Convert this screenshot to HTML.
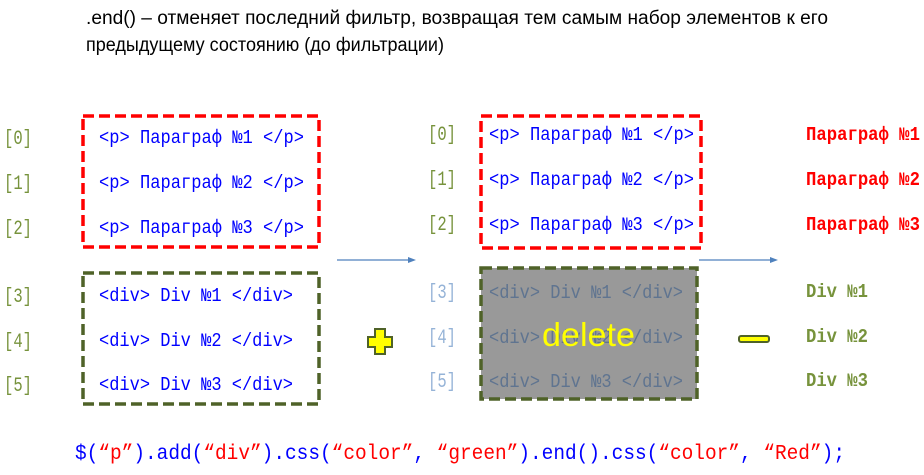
<!DOCTYPE html>
<html><head><meta charset="utf-8"><style>
html,body{margin:0;padding:0;background:#fff;}
svg{display:block}
.m{font-family:"Liberation Mono",monospace;}
.s{font-family:"Liberation Sans",sans-serif;}
</style></head><body>
<svg width="924" height="475" viewBox="0 0 924 475" xmlns="http://www.w3.org/2000/svg">
<text class="s" x="86" y="24" font-size="19" fill="#000" textLength="742" lengthAdjust="spacingAndGlyphs">.end() – отменяет последний фильтр, возвращая тем самым набор элементов к его</text>
<text class="s" x="86" y="51" font-size="19" fill="#000" textLength="358" lengthAdjust="spacingAndGlyphs">предыдущему состоянию (до фильтрации)</text>

<rect x="83" y="116" width="236" height="131" fill="none" stroke="#ff0000" stroke-width="3.5" stroke-dasharray="11,5"/>
<rect x="83" y="273" width="236" height="131" fill="none" stroke="#4f6228" stroke-width="3.5" stroke-dasharray="11,5"/>
<g class="m" font-size="20" fill="#77933c">
<text x="4" y="144" textLength="28" lengthAdjust="spacingAndGlyphs">[0]</text>
<text x="4" y="189" textLength="28" lengthAdjust="spacingAndGlyphs">[1]</text>
<text x="4" y="234" textLength="28" lengthAdjust="spacingAndGlyphs">[2]</text>
<text x="4" y="302" textLength="28" lengthAdjust="spacingAndGlyphs">[3]</text>
<text x="4" y="347" textLength="28" lengthAdjust="spacingAndGlyphs">[4]</text>
<text x="4" y="391" textLength="28" lengthAdjust="spacingAndGlyphs">[5]</text>
</g>
<g class="m" font-size="19" fill="#0000ff">
<text x="99" y="143" textLength="205" lengthAdjust="spacingAndGlyphs">&lt;p&gt; Параграф №1 &lt;/p&gt;</text>
<text x="99" y="188" textLength="205" lengthAdjust="spacingAndGlyphs">&lt;p&gt; Параграф №2 &lt;/p&gt;</text>
<text x="99" y="233" textLength="205" lengthAdjust="spacingAndGlyphs">&lt;p&gt; Параграф №3 &lt;/p&gt;</text>
<text x="99" y="301" textLength="194" lengthAdjust="spacingAndGlyphs">&lt;div&gt; Div №1 &lt;/div&gt;</text>
<text x="99" y="346" textLength="194" lengthAdjust="spacingAndGlyphs">&lt;div&gt; Div №2 &lt;/div&gt;</text>
<text x="99" y="390" textLength="194" lengthAdjust="spacingAndGlyphs">&lt;div&gt; Div №3 &lt;/div&gt;</text>
</g>

<line x1="337" y1="260" x2="410" y2="260" stroke="#4f81bd" stroke-width="1.3"/>
<polygon points="416,260 408,257 408,263" fill="#4f81bd"/>
<line x1="699" y1="260" x2="772" y2="260" stroke="#4f81bd" stroke-width="1.3"/>
<polygon points="778,260 770,257 770,263" fill="#4f81bd"/>

<path d="M375,329 h10 v8 h7 v10 h-7 v7 h-10 v-7 h-7 v-10 h7 z" fill="#ffff00" stroke="#4f6228" stroke-width="2"/>
<rect x="739" y="336" width="30" height="6" rx="2" fill="#ffff00" stroke="#4f6228" stroke-width="2"/>

<rect x="481" y="116" width="220" height="132" fill="none" stroke="#ff0000" stroke-width="3.5" stroke-dasharray="11,5"/>
<rect x="481" y="268" width="216" height="131" fill="#999999" stroke="#4f6228" stroke-width="3.5" stroke-dasharray="11,5"/>
<g class="m" font-size="20">
<text x="428" y="140" fill="#77933c" textLength="28" lengthAdjust="spacingAndGlyphs">[0]</text>
<text x="428" y="185" fill="#77933c" textLength="28" lengthAdjust="spacingAndGlyphs">[1]</text>
<text x="428" y="230" fill="#77933c" textLength="28" lengthAdjust="spacingAndGlyphs">[2]</text>
<text x="428" y="298" fill="#95b3d7" textLength="28" lengthAdjust="spacingAndGlyphs">[3]</text>
<text x="428" y="343" fill="#95b3d7" textLength="28" lengthAdjust="spacingAndGlyphs">[4]</text>
<text x="428" y="387" fill="#95b3d7" textLength="28" lengthAdjust="spacingAndGlyphs">[5]</text>
</g>
<g class="m" font-size="19" fill="#0000ff">
<text x="489" y="140" textLength="205" lengthAdjust="spacingAndGlyphs">&lt;p&gt; Параграф №1 &lt;/p&gt;</text>
<text x="489" y="185" textLength="205" lengthAdjust="spacingAndGlyphs">&lt;p&gt; Параграф №2 &lt;/p&gt;</text>
<text x="489" y="230" textLength="205" lengthAdjust="spacingAndGlyphs">&lt;p&gt; Параграф №3 &lt;/p&gt;</text>
</g>
<g class="m" font-size="19" fill="#5f7490">
<text x="489" y="298" textLength="194" lengthAdjust="spacingAndGlyphs">&lt;div&gt; Div №1 &lt;/div&gt;</text>
<text x="489" y="343" textLength="194" lengthAdjust="spacingAndGlyphs">&lt;div&gt; Div №2 &lt;/div&gt;</text>
<text x="489" y="387" textLength="194" lengthAdjust="spacingAndGlyphs">&lt;div&gt; Div №3 &lt;/div&gt;</text>
</g>
<text class="s" x="542" y="346" font-size="33" fill="#ffff00" textLength="93" lengthAdjust="spacingAndGlyphs">delete</text>

<g class="m" font-size="19" font-weight="bold">
<text x="806" y="140" fill="#ff0000" textLength="114" lengthAdjust="spacingAndGlyphs">Параграф №1</text>
<text x="806" y="185" fill="#ff0000" textLength="114" lengthAdjust="spacingAndGlyphs">Параграф №2</text>
<text x="806" y="230" fill="#ff0000" textLength="114" lengthAdjust="spacingAndGlyphs">Параграф №3</text>
<text x="806" y="297" fill="#77933c" textLength="62" lengthAdjust="spacingAndGlyphs">Div №1</text>
<text x="806" y="342" fill="#77933c" textLength="62" lengthAdjust="spacingAndGlyphs">Div №2</text>
<text x="806" y="386" fill="#77933c" textLength="62" lengthAdjust="spacingAndGlyphs">Div №3</text>
</g>

<text class="m" x="75" y="459" font-size="21" fill="#0000ff" textLength="770" lengthAdjust="spacingAndGlyphs">$(<tspan fill="#ff0000">“p”</tspan>).add(<tspan fill="#ff0000">“div”</tspan>).css(<tspan fill="#ff0000">“color”</tspan>, <tspan fill="#ff0000">“green”</tspan>).end().css(<tspan fill="#ff0000">“color”</tspan>, <tspan fill="#ff0000">“Red”</tspan>);</text>
</svg>
</body></html>
